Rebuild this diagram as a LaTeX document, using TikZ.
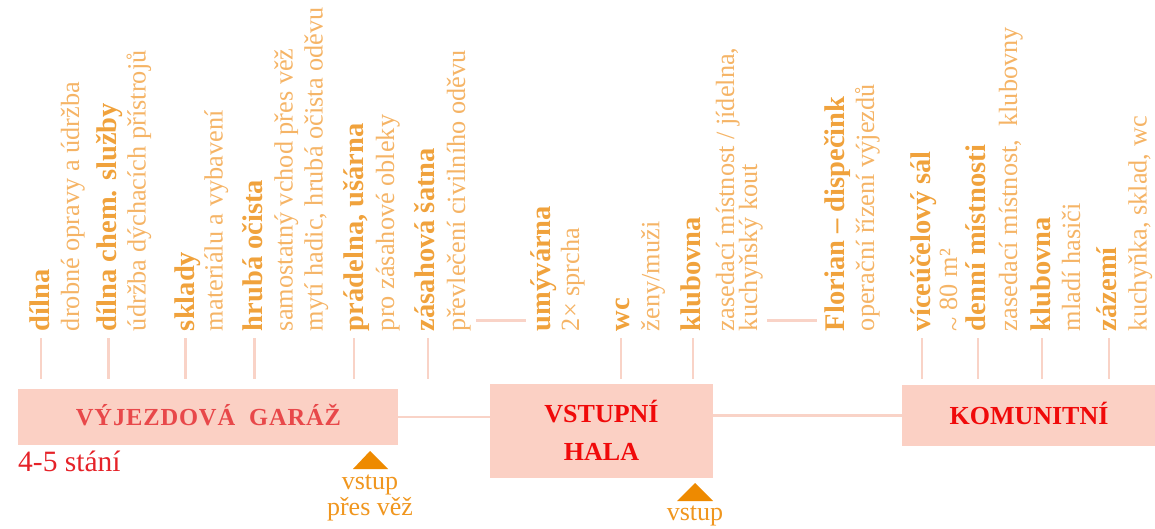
\documentclass[tikz,border=0pt]{standalone}
\usepackage{fontspec}
\setmainfont{Liberation Serif}
\definecolor{boxfill}{HTML}{FBD0C4}
\definecolor{linec}{HTML}{F9D3C7}
\definecolor{garagetext}{HTML}{E8484A}
\definecolor{halatext}{HTML}{F00A0A}
\definecolor{counttext}{HTML}{E52228}
\definecolor{tricol}{HTML}{EE8A00}
\definecolor{vstuptext}{HTML}{F0961E}
\definecolor{ctitle}{HTML}{F0A23C}
\definecolor{cdesc}{HTML}{F5B466}
\begin{document}
\begin{tikzpicture}[x=1pt,y=-1pt,
  title/.style={rotate=90, anchor=base west, inner sep=0pt, outer sep=0pt, text=ctitle, font=\fontsize{28.5}{30}\selectfont\bfseries},
  desc/.style={rotate=90, anchor=base west, inner sep=0pt, outer sep=0pt, text=cdesc, font=\fontsize{26.3}{30}\selectfont},
  roombox/.style={fill=boxfill, draw=none, inner sep=0pt, outer sep=0pt},
  boxlabel/.style={anchor=base, inner sep=0pt, text=halatext, font=\fontsize{26}{30}\selectfont\bfseries},
  tick/.style={draw=linec, line width=2.6pt},
  link/.style={draw=linec, line width=2.6pt},
  entry/.style={fill=tricol},
  entrylabel/.style={anchor=base, inner sep=0pt, text=vstuptext, font=\fontsize{26}{30}\selectfont}
]
\useasboundingbox (0,0) rectangle (1155,529);

% boxes
\node[roombox, minimum width=380pt, minimum height=56pt] (garage) at (208,417) {};
\node[roombox, minimum width=223pt, minimum height=94pt] (hala) at (601.5,431) {};
\node[roombox, minimum width=253pt, minimum height=61pt] (kom) at (1028.5,415.5) {};

% connectors
\draw[link] (garage.east) -- (garage.east -| hala.west);
\draw[link] (hala.east |- kom.west) -- (kom.west);

% box labels
\node[boxlabel, text=garagetext, font=\fontsize{24.5}{30}\selectfont\bfseries\addfontfeature{LetterSpace=3.5}] (garagelbl) at (208.5,425.5) {VÝJEZDOVÁ\ \ GARÁŽ};
\node[boxlabel] (halalbl1) at (601.5,422.7) {VSTUPNÍ};
\node[boxlabel] (halalbl2) at (601.5,460) {HALA};
\node[boxlabel] (komlbl) at (1029,424) {KOMUNITNÍ};
\node[anchor=base west, inner sep=0pt, text=counttext, font=\fontsize{29.5}{30}\selectfont] (count) at (18,471) {4-5 stání};

% entries
\fill[entry] (370,451) -- (353,469) -- (388,469) -- cycle;
\node[entrylabel] (vstup1a) at (370,489) {vstup};
\node[entrylabel] (vstup1b) at (370,515.7) {přes věž};
\fill[entry] (695,483) -- (677,501) -- (713,501) -- cycle;
\node[entrylabel] (vstup2) at (695,520.7) {vstup};

% ticks
\foreach \x/\n in {41/k1,108.3/k2,185.7/k3,254.5/k4,354/k5,428/k6,621/k7,693/k8,922/k9,978/k10,1042/k11,1109/k12}{
  \coordinate (\n a) at (\x,338);
  \coordinate (\n b) at (\x,379);
  \draw[tick] (\n a) -- (\n b);
}
% leaders
\coordinate (la1) at (476,320.7);
\coordinate (la2) at (526,320.7);
\draw[tick] (la1) -- (la2);
\coordinate (lb1) at (767,320.7);
\coordinate (lb2) at (817,320.7);
\draw[tick] (lb1) -- (lb2);

% vertical labels
\node[title] (t1) at (49.5,331) {dílna};
\node[desc]  (d1) at (79,331) {drobné opravy a údržba};
\node[title] (t2) at (116.7,331) {dílna chem. služby};
\node[desc]  (d2) at (145.7,331) {údržba dýchacích přístrojů};
\node[title] (t3) at (194.3,331) {sklady};
\node[desc]  (d3) at (222.7,331) {materiálu a vybavení};
\node[title] (t4) at (262.3,331) {hrubá očista};
\node[desc]  (d4a) at (292.7,331) {samostatný vchod přes věž};
\node[desc]  (d4b) at (322.7,331) {mytí hadic, hrubá očista oděvu};
\node[title] (t5) at (363.3,331) {prádelna, ušárna};
\node[desc]  (d5) at (394,331) {pro zásahové obleky};
\node[title] (t6) at (434,331) {zásahová šatna};
\node[desc]  (d6) at (465,331) {převlečení civilního oděvu};
\node[title] (t7) at (550,331) {umývárna};
\node[desc]  (d7) at (579,331) {2× sprcha};
\node[title] (t8) at (629.3,331) {wc};
\node[desc]  (d8) at (659.3,331) {ženy/muži};
\node[title] (t9) at (700.7,331) {klubovna};
\node[desc]  (d9a) at (734,331) {zasedací místnost / jídelna,};
\node[desc]  (d9b) at (757,331) {kuchyňský kout};
\node[title] (t10) at (844,331) {Florian – dispečink};
\node[desc]  (d10) at (874,331) {operační řízení výjezdů};
\node[title] (t11) at (930,331) {víceúčelový sál};
\node[desc]  (d11) at (957,331) {\raisebox{-0.22em}{\textasciitilde}\ 80 m²};
\node[title] (t12) at (985,331) {denní místnosti};
\node[desc]  (d12) at (1017,331) {zasedací místnost,\ \ klubovny};
\node[title] (t13) at (1050,331) {klubovna};
\node[desc]  (d13) at (1080,331) {mladí hasiči};
\node[title] (t14) at (1116.7,331) {zázemí};
\node[desc]  (d14) at (1146.7,331) {kuchyňka, sklad, wc};
\end{tikzpicture}
\end{document}
